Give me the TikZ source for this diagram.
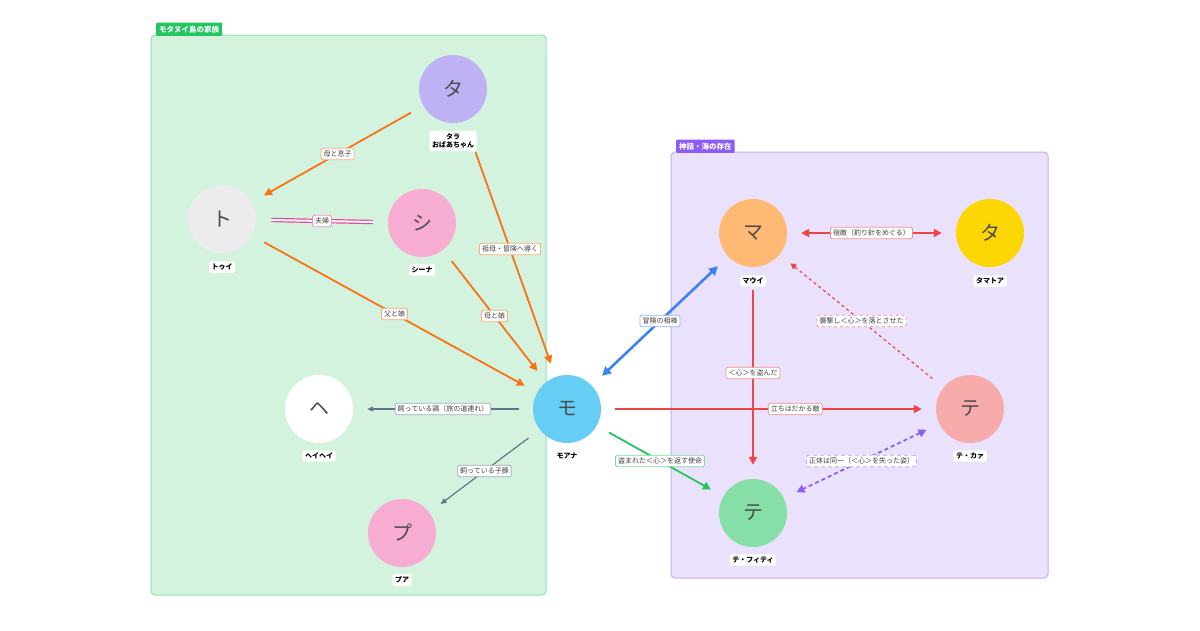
\documentclass[tikz,border=0pt]{standalone}
\usepackage{fontspec}
\setmainfont{Noto Sans CJK JP}
\usetikzlibrary{arrows.meta}
\definecolor{cOrange}{HTML}{F97316}
\definecolor{cPink}{HTML}{EC4899}
\definecolor{cGray}{HTML}{64748B}
\definecolor{cBlue}{HTML}{3B82F6}
\definecolor{cGreen}{HTML}{22C55E}
\definecolor{cRed}{HTML}{EF4444}
\definecolor{cPurple}{HTML}{8B5CF6}
\tikzset{
  person/.style={circle,minimum size=68pt,inner sep=0pt,font=\fontsize{20}{20}\selectfont,text=black!70},
  tag/.style={fill=white,rounded corners=1.5pt,font=\fontsize{7}{8.5}\selectfont\bfseries,align=center,inner sep=2.5pt},
  rel/.style={fill=white,draw=#1!60,rounded corners=1.5pt,font=\fontsize{7}{8}\selectfont,text=black!75,inner sep=2.5pt,line width=0.8pt},
  link/.style={line width=1.8pt,draw=#1,shorten <=14pt,shorten >=14pt,-{Triangle[length=8pt,width=8pt]}},
}
\begin{document}
\begin{tikzpicture}[x=1pt,y=-1pt]
  \useasboundingbox (0,0) rectangle (1200,630);
  % groups
  \draw[fill=cGreen!20,draw=cGreen!50,rounded corners=4pt,line width=1pt] (151,35) rectangle (546,595);
  \node[fill=cGreen,text=white,anchor=south west,font=\fontsize{7.5}{8}\selectfont\bfseries,inner sep=3pt,rounded corners=1pt] (famtag) at (156,36) {モタヌイ島の家族};
  \draw[fill=cPurple!18,draw=cPurple!50,rounded corners=4pt,line width=1pt] (671,152) rectangle (1048,578);
  \node[fill=cPurple,text=white,anchor=south west,font=\fontsize{7.5}{8}\selectfont\bfseries,inner sep=3pt,rounded corners=1pt] (mythtag) at (676,153) {神話・海の存在};

  % people
  \node[person,fill=violet!30!blue!30] (tala) at (453,89) {タ};
  \node[tag] (talaL) at (453,141) {タラ\\おばあちゃん};
  \node[person,fill=gray!15] (tui) at (222,219) {ト};
  \node[tag] (tuiL) at (222,267) {トゥイ};
  \node[person,fill=cPink!45] (sina) at (422,223) {シ};
  \node[tag] (sinaL) at (422,270) {シーナ};
  \node[person,fill=white] (heihei) at (319,409) {ヘ};
  \node[tag] (heiheiL) at (319,456) {ヘイヘイ};
  \node[person,fill=cyan!60] (moana) at (567,409) {モ};
  \node[tag] (moanaL) at (567,456) {モアナ};
  \node[person,fill=cPink!45] (pua) at (402,533) {プ};
  \node[tag] (puaL) at (402,580) {プア};
  \node[person,fill=orange!55] (maui) at (753,233) {マ};
  \node[tag] (mauiL) at (753,281) {マウイ};
  \node[person,fill=yellow!75!orange] (tamatoa) at (990,233) {タ};
  \node[tag] (tamatoaL) at (990,281) {タマトア};
  \node[person,fill=cRed!45] (teka) at (970,409) {テ};
  \node[tag] (tekaL) at (970,456) {テ・カァ};
  \node[person,fill=cGreen!55] (tefiti) at (753,513) {テ};
  \node[tag] (tefitiL) at (753,560) {テ・フィティ};

  % family links
  \draw[link=cOrange] (tala) -- node[rel=cOrange] {母と息子} (tui);
  \draw[draw=cPink,double=white,double distance=2pt,line width=1.2pt,shorten <=15pt,shorten >=15pt] (tui) -- node[rel=cPink] {夫婦} (sina);
  \draw[link=cOrange] (tui) -- node[rel=cOrange] {父と娘} (moana);
  \draw[link=cOrange] (sina) -- node[rel=cOrange] {母と娘} (moana);
  \draw[link=cOrange,shorten <=33pt] (tala) -- node[rel=cOrange] {祖母・冒険へ導く} (moana);
  \draw[link=cGray,line width=1.2pt,-{Triangle[length=6pt,width=5pt]}] (moana) -- node[rel=cGray] {飼っている鶏（旅の道連れ）} (heihei);
  \draw[link=cGray,line width=1.2pt,-{Triangle[length=6pt,width=5pt]}] (moana) -- node[rel=cGray] {飼っている子豚} (pua);

  % myth links
  \draw[link=cBlue,line width=2.6pt,{Triangle[length=9pt,width=9pt]}-{Triangle[length=9pt,width=9pt]}] (moana) -- node[rel=cBlue] {冒険の相棒} (maui);
  \draw[link=cGreen] (moana) -- node[rel=cGreen] {盗まれた＜心＞を返す使命} (tefiti);
  \draw[link=cRed] (moana) -- node[rel=cRed,pos=0.58] {立ちはだかる敵} (teka);
  \draw[link=cRed,{Triangle[length=8pt,width=8pt]}-{Triangle[length=8pt,width=8pt]}] (maui) -- node[rel=cRed] {宿敵（釣り針をめぐる）} (tamatoa);
  \draw[link=cRed,shorten <=23pt] (maui) -- node[rel=cRed] {＜心＞を盗んだ} (tefiti);
  \draw[link=cRed,line width=1.2pt,dash pattern=on 3pt off 3pt,-{Triangle[length=6pt,width=6pt]}] (teka) -- node[rel=cRed] {襲撃し＜心＞を落とさせた} (maui);
  \draw[link=cPurple,dash pattern=on 4pt off 3pt,{Triangle[length=8pt,width=8pt]}-{Triangle[length=8pt,width=8pt]}] (teka) -- node[rel=cPurple] {正体は同一（＜心＞を失った姿）} (tefiti);
\end{tikzpicture}
\end{document}
